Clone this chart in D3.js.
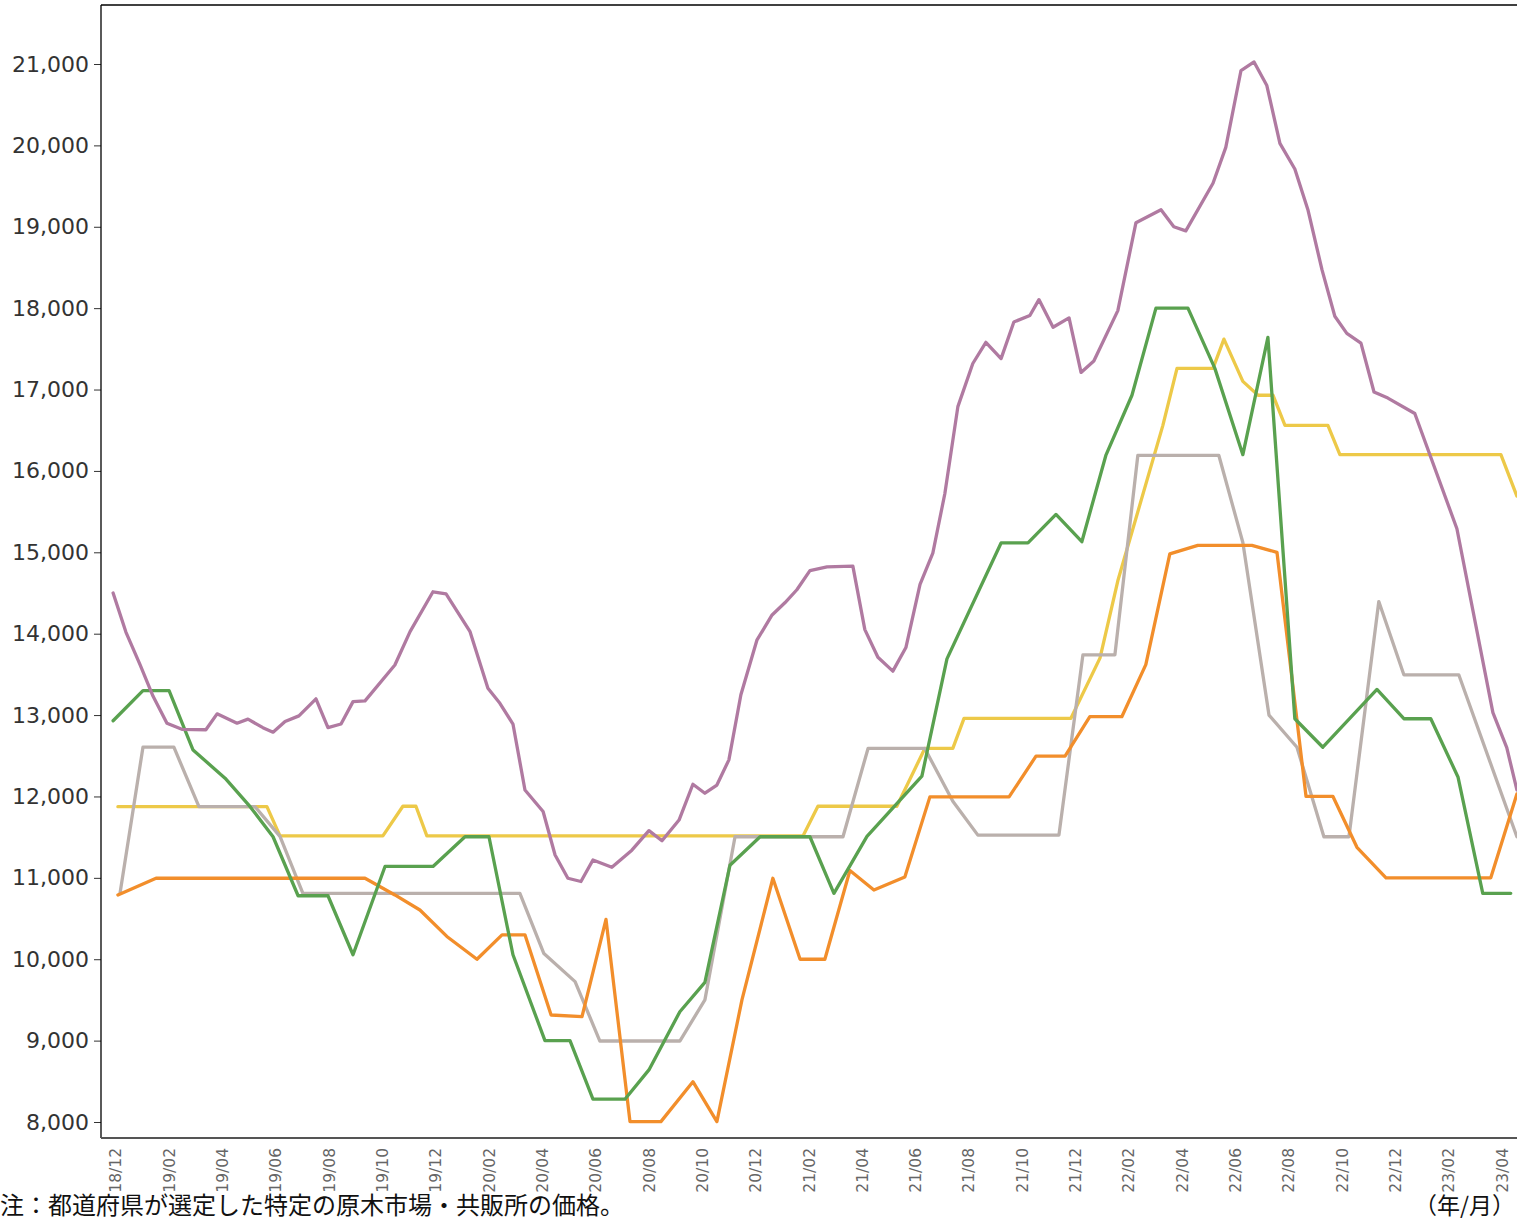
<!DOCTYPE html>
<html>
<head>
<meta charset="utf-8">
<script src="https://cdn.jsdelivr.net/npm/d3@7"></script>
<style>
  body { margin: 0; background: #fff; }
  svg { display: block; }
</style>
</head>
<body>
<div id="chart"></div>
<script>
// Month index: 0 = 2018/12, 2 = 2019/02 ... (fractional = position inside the month)
const tickLabels = ["18/12", "19/02", "19/04", "19/06", "19/08", "19/10", "19/12",
    "20/02", "20/04", "20/06", "20/08", "20/10", "20/12",
    "21/02", "21/04", "21/06", "21/08", "21/10", "21/12",
    "22/02", "22/04", "22/06", "22/08", "22/10", "22/12",
    "23/02", "23/04"];

const yTicks = [8000, 9000, 10000, 11000, 12000, 13000, 14000, 15000,
    16000, 17000, 18000, 19000, 20000, 21000];

// [month index, price]
const purple = [[-0.09, 14500], [0.39, 14020], [0.92, 13620], [1.41, 13230], [1.93, 12900],
    [2.49, 12825], [3.39, 12820], [3.81, 13015], [4.56, 12900], [4.97, 12950], [5.53, 12845],
    [5.91, 12790], [6.36, 12920], [6.88, 12990], [7.52, 13200], [7.97, 12845], [8.46, 12890],
    [8.91, 13165], [9.36, 13175], [10.48, 13615], [11.05, 14025], [11.91, 14515], [12.40, 14490],
    [13.30, 14025], [13.97, 13330], [14.42, 13145], [14.91, 12890], [15.36, 12080], [16.04, 11815],
    [16.49, 11280], [16.97, 10995], [17.46, 10955], [17.91, 11220], [18.62, 11130], [19.37, 11340],
    [20.01, 11580], [20.50, 11455], [21.14, 11710], [21.66, 12150], [22.11, 12040], [22.56, 12140],
    [23.01, 12450], [23.46, 13250], [24.06, 13920], [24.63, 14230], [25.11, 14380], [25.56, 14540],
    [26.05, 14775], [26.69, 14820], [27.66, 14830], [28.11, 14050], [28.60, 13710], [29.16, 13540],
    [29.65, 13830], [30.18, 14605], [30.66, 14990], [31.11, 15720], [31.60, 16790], [32.16, 17320],
    [32.65, 17580], [33.22, 17380], [33.70, 17830], [34.30, 17910], [34.64, 18105], [35.17, 17765],
    [35.77, 17880], [36.22, 17210], [36.70, 17350], [37.60, 17970], [38.28, 19050], [39.22, 19210],
    [39.70, 19000], [40.15, 18950], [41.17, 19535], [41.65, 19975], [42.22, 20920], [42.71, 21025],
    [43.19, 20735], [43.68, 20025], [44.24, 19710], [44.73, 19210], [45.26, 18470], [45.74, 17900],
    [46.19, 17690], [46.72, 17570], [47.21, 16970], [47.73, 16895], [48.74, 16705], [50.32, 15290],
    [51.67, 13030], [52.19, 12600], [52.57, 12080]];

const green = [[-0.09, 12930], [1.03, 13300], [2.01, 13300], [2.91, 12570], [4.11, 12225],
    [5.05, 11875], [5.91, 11505], [6.85, 10780], [7.97, 10780], [8.91, 10055], [10.11, 11140],
    [11.91, 11140], [13.11, 11505], [14.01, 11505], [14.91, 10055], [16.11, 9000], [17.05, 9000],
    [17.91, 8280], [19.11, 8280], [20.01, 8640], [21.17, 9355], [22.11, 9715], [23.05, 11155],
    [24.18, 11505], [26.05, 11505], [26.95, 10810], [28.19, 11510], [30.25, 12250], [31.19, 13690],
    [33.22, 15115], [34.23, 15115], [35.28, 15465], [36.25, 15130], [37.15, 16190], [38.13, 16930],
    [39.03, 18000], [40.23, 18000], [41.24, 17260], [42.29, 16200], [43.23, 17640], [44.24, 12955],
    [45.29, 12605], [47.32, 13315], [48.33, 12955], [49.34, 12955], [50.36, 12240], [51.29, 10810],
    [52.34, 10810]];

const yellow = [[0.09, 11875], [5.68, 11875], [6.17, 11515], [10.03, 11515], [10.78, 11880],
    [11.27, 11880], [11.68, 11515], [25.79, 11515], [26.35, 11880], [29.31, 11880], [30.36, 12590],
    [31.41, 12590], [31.83, 12960], [35.84, 12960], [36.93, 13700], [37.60, 14650], [39.29, 16560],
    [39.82, 17260], [41.17, 17260], [41.58, 17620], [42.29, 17100], [42.86, 16930], [43.42, 16930],
    [43.87, 16560], [45.48, 16560], [45.93, 16200], [51.97, 16200], [52.57, 15690]];

const gray = [[0.17, 10810], [1.03, 12605], [2.19, 12605], [3.13, 11875], [5.23, 11875],
    [6.17, 11510], [7.03, 10810], [15.17, 10810], [16.07, 10070], [17.24, 9725], [18.17, 8995],
    [21.17, 8995], [22.11, 9500], [23.24, 11505], [27.29, 11505], [28.23, 12590], [30.36, 12590],
    [31.41, 11940], [32.35, 11525], [35.39, 11525], [36.29, 13740], [37.49, 13740], [38.35, 16190],
    [41.39, 16190], [42.29, 15120], [43.27, 13000], [44.32, 12605], [45.33, 11505], [46.27, 11505],
    [47.39, 14395], [48.33, 13495], [50.39, 13495], [52.57, 11505]];

const orange = [[0.09, 10790], [1.52, 10995], [9.36, 10995], [10.48, 10790], [11.42, 10605],
    [12.43, 10280], [13.56, 10000], [14.50, 10300], [15.36, 10300], [16.34, 9315], [17.50, 9295],
    [18.40, 10490], [19.30, 8005], [20.46, 8005], [21.66, 8495], [22.56, 8005], [23.50, 9500],
    [24.66, 10995], [25.68, 10000], [26.61, 10000], [27.55, 11090], [28.45, 10850], [29.61, 11010],
    [30.55, 11995], [33.52, 11995], [34.53, 12495], [35.62, 12495], [36.55, 12980], [37.75, 12980],
    [38.65, 13620], [39.55, 14980], [40.60, 15085], [42.63, 15085], [43.57, 15000], [44.66, 12000],
    [45.67, 12000], [46.57, 11375], [47.66, 11000], [51.59, 11000], [52.57, 12030]];

const seriesList = [yellow, gray, orange, green, purple];
const seriesColors = ["#edc948", "#bab0ac", "#f28e2b", "#59a14f", "#b07aa1"];

function createPriceChart(width, height) {
    const plotLeft = 101;
    const plotTop = 5;
    const plotBottom = 1138;
    const plotRight = width;

    const x = d3.scaleLinear()
        .domain([0, 52])
        .range([115.5, 1501.7]);

    const y = d3.scaleLinear()
        .domain([8000, 21000])
        .range([1122, 64]);

    const svg = d3.create("svg")
        .attr("width", width)
        .attr("height", height)
        .attr("viewBox", [0, 0, width, height])
        .style("background", "#fff");

    svg.append("clipPath")
        .attr("id", "plot-clip")
        .append("rect")
        .attr("x", plotLeft)
        .attr("y", plotTop)
        .attr("width", plotRight - plotLeft)
        .attr("height", plotBottom - plotTop);

    // Y axis with ticks and labels.
    svg.append("g")
        .attr("transform", `translate(${plotLeft},0)`)
        .call(d3.axisLeft(y).tickValues(yTicks).tickSize(7).tickPadding(5).tickFormat(d3.format(",")))
        .call(g => g.select(".domain").remove())
        .call(g => g.selectAll(".tick line").attr("stroke", "#333"))
        .call(g => g.selectAll(".tick text")
            .attr("fill", "#333")
            .style("font", "22px 'DejaVu Sans', sans-serif"));

    // X axis, labels turned vertical.
    const xTickValues = tickLabels.map((d, i) => i * 2);
    svg.append("g")
        .attr("transform", `translate(0,${plotBottom})`)
        .call(d3.axisBottom(x).tickValues(xTickValues).tickSize(0).tickFormat((d, i) => tickLabels[i]))
        .call(g => g.select(".domain").remove())
        .call(g => g.selectAll(".tick text")
            .attr("transform", "rotate(-90)")
            .attr("x", -10)
            .attr("y", 0)
            .attr("dy", "0.35em")
            .attr("text-anchor", "end")
            .attr("fill", "#666")
            .style("font", "15.5px 'DejaVu Sans', sans-serif"));

    // The lines.
    const line = d3.line()
        .x(d => x(d[0]))
        .y(d => y(d[1]));

    const lineGroup = svg.append("g").attr("clip-path", "url(#plot-clip)");
    seriesList.forEach((data, i) => {
        lineGroup.append("path")
            .datum(data)
            .attr("fill", "none")
            .attr("stroke", seriesColors[i])
            .attr("stroke-width", 3.3)
            .attr("stroke-linejoin", "round")
            .attr("stroke-linecap", "round")
            .attr("d", line);
    });

    // Frame: top and left in black, bottom axis line in grey.
    svg.append("line")
        .attr("x1", plotLeft).attr("x2", plotRight)
        .attr("y1", plotTop).attr("y2", plotTop)
        .attr("stroke", "#000").attr("stroke-width", 1.3);
    svg.append("line")
        .attr("x1", plotLeft).attr("x2", plotLeft)
        .attr("y1", plotTop).attr("y2", plotBottom)
        .attr("stroke", "#000").attr("stroke-width", 1.3);
    svg.append("line")
        .attr("x1", plotLeft).attr("x2", plotRight)
        .attr("y1", plotBottom).attr("y2", plotBottom)
        .attr("stroke", "#555").attr("stroke-width", 2);

    // Footnote and unit.
    svg.append("text")
        .attr("x", 0)
        .attr("y", 1214)
        .attr("fill", "#111")
        .style("font", "24px 'Noto Sans CJK JP', sans-serif")
        .text("注：都道府県が選定した特定の原木市場・共販所の価格。");

    svg.append("text")
        .attr("x", 1515)
        .attr("y", 1214)
        .attr("text-anchor", "end")
        .attr("fill", "#111")
        .style("font", "23px 'Noto Sans CJK JP', sans-serif")
        .text("（年/月）");

    return svg.node();
}

document.getElementById("chart").appendChild(createPriceChart(1517, 1222));
</script>
</body>
</html>
